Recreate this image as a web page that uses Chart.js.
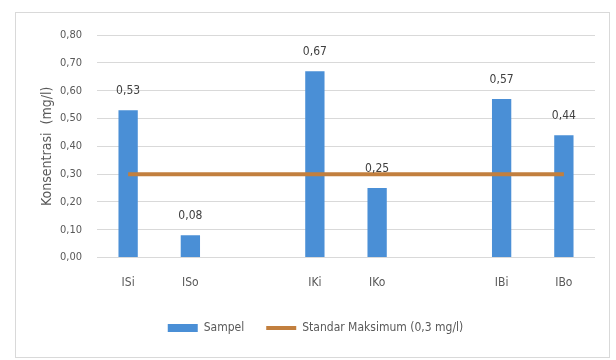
<!DOCTYPE html>
<html>
<head>
<meta charset="utf-8">
<script src="https://cdn.jsdelivr.net/npm/chart.js@4/dist/chart.umd.min.js"></script>
<style>
  html, body { margin: 0; padding: 0; background: #ffffff; }
  #frame { position: absolute; left: 15px; top: 12px; width: 595px; height: 346px; border: 1px solid #d9d9d9; box-sizing: border-box; }
  #wrap { position: absolute; left: 0; top: 0; width: 593px; height: 344px; }
</style>
</head>
<body>
<div id="frame"><div id="wrap"><canvas id="c" width="593" height="344"></canvas></div></div>
<script>
const categories = ["ISi", "ISo", "", "IKi", "IKo", "", "IBi", "IBo"];
const sampelValues = [0.53, 0.08, null, 0.67, 0.25, null, 0.57, 0.44];
const standarValues = [0.3, 0.3, 0.3, 0.3, 0.3, 0.3, 0.3, 0.3];
const yTicks = [0, 0.1, 0.2, 0.3, 0.4, 0.5, 0.6, 0.7, 0.8];

const FONT = "'Liberation Sans Narrow', 'DejaVu Sans Condensed', 'Liberation Sans', sans-serif";
const fmt = v => v.toFixed(2).replace('.', ',');

const dataLabels = {
  id: 'dataLabels',
  afterDatasetsDraw(chart) {
    const ctx = chart.ctx;
    const meta = chart.getDatasetMeta(1);
    ctx.save();
    ctx.font = "12px " + FONT;
    ctx.fillStyle = '#404040';
    ctx.textAlign = 'center';
    ctx.textBaseline = 'bottom';
    meta.data.forEach((el, i) => {
      const v = sampelValues[i];
      if (v === null) return;
      ctx.fillText(fmt(v), el.x, el.y - 13);
    });
    ctx.restore();
  }
};

new Chart(document.getElementById('c'), {
  data: {
    labels: categories,
    datasets: [
      {
        type: 'line',
        label: 'Standar Maksimum (0,3 mg/l)',
        data: standarValues,
        borderColor: '#c27f3e',
        backgroundColor: '#c27f3e',
        borderWidth: 4,
        pointRadius: 0,
        pointStyle: 'line',
        order: 0
      },
      {
        type: 'bar',
        label: 'Sampel',
        data: sampelValues,
        backgroundColor: '#4a8fd6',
        borderWidth: 0,
        categoryPercentage: 1,
        barPercentage: 0.31,
        pointStyle: 'rect',
        order: 1
      }
    ]
  },
  options: {
    responsive: false,
    animation: false,
    devicePixelRatio: 1,
    layout: { padding: { left: 20, right: 14, top: 22, bottom: 13 } },
    scales: {
      x: {
        grid: { display: false },
        border: { display: false },
        ticks: { color: '#595959', font: { family: FONT, size: 12 }, padding: 10 }
      },
      y: {
        min: 0, max: 0.8,
        afterBuildTicks(axis) { axis.ticks = yTicks.map(v => ({ value: v })); },
        afterFit(axis) { axis.width = 61; },
        grid: { color: '#d9d9d9', lineWidth: 1, drawTicks: false },
        border: { display: false },
        ticks: { color: '#595959', font: { family: FONT, size: 11 }, padding: 15, callback: v => fmt(v) },
        title: { display: true, text: 'Konsentrasi  (mg/l)', color: '#595959', font: { family: FONT, size: 14 }, padding: 3 }
      }
    },
    plugins: {
      legend: {
        position: 'bottom',
        reverse: true,
        labels: {
          usePointStyle: true,
          pointStyleWidth: 30,
          boxHeight: 8,
          color: '#595959',
          font: { family: FONT, size: 12 },
          padding: 22
        }
      },
      tooltip: { enabled: false }
    }
  },
  plugins: [dataLabels]
});
</script>
</body>
</html>
